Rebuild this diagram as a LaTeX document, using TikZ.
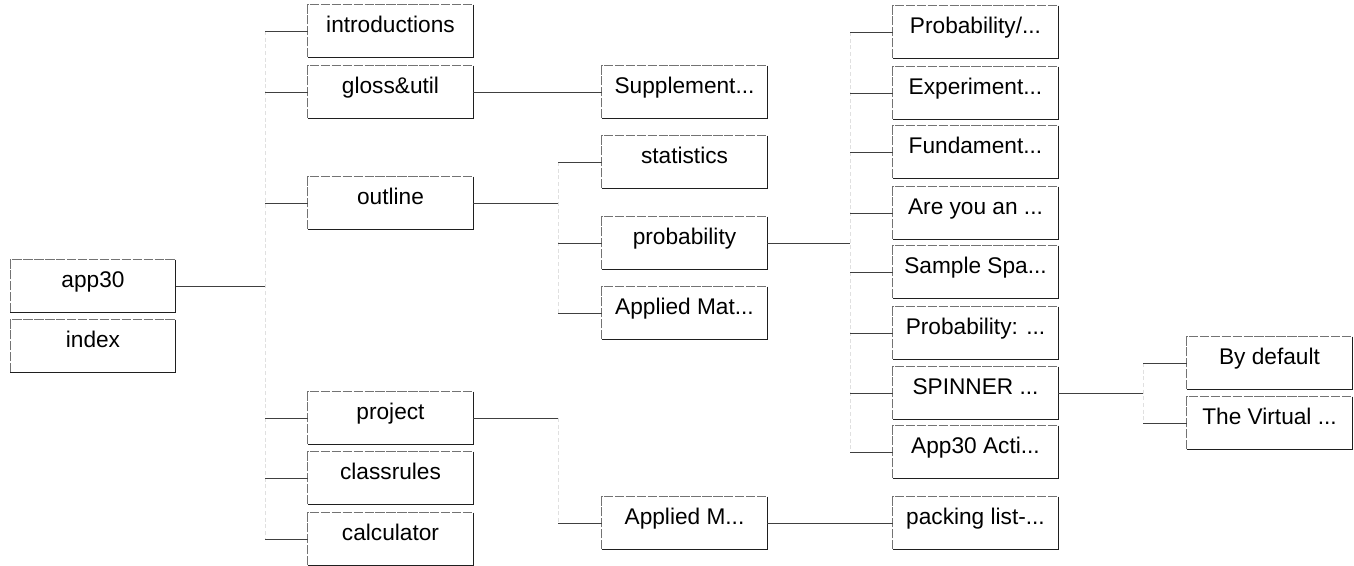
\documentclass[tikz,border=0pt]{standalone}
\usepackage{fontspec}
\setmainfont{Liberation Sans}
\tikzset{
  tbox/.style={minimum width=123.75pt, minimum height=39pt, inner sep=0pt,
    text height=5pt, text depth=2.5pt, font=\fontsize{17}{19}\selectfont},
  lightedge/.style={draw=black!55, line width=0.6pt, dash pattern=on 7pt off 1.2pt},
  darkedge/.style={draw=black!88, line width=0.9pt},
  conn/.style={draw=black!75, line width=0.65pt},
  trunk/.style={draw=black!12, line width=0.5pt, dash pattern=on 3pt off 2pt}
}
\newcommand\mybox[4]{%
  \node[tbox] (#1) at (#2,#3) {#4};
  \draw[lightedge] (#1.south west) -- (#1.north west) -- (#1.north east);
  \draw[darkedge] (#1.north east) -- (#1.south east) -- (#1.south west);
}
\begin{document}
\begin{tikzpicture}[x=0.75pt,y=-0.75pt]
\useasboundingbox (0,0) rectangle (1354,565);
% column 1
\mybox{app30}{93}{286}{app30}
\mybox{index}{93}{346}{index}
% column 2
\mybox{intro}{390.5}{31}{introductions}
\mybox{gloss}{390.5}{92}{gloss\&util}
\mybox{outline}{390.5}{203}{outline}
\mybox{project}{390.5}{418}{project}
\mybox{classrules}{390.5}{478}{classrules}
\mybox{calc}{390.5}{539}{calculator}
% column 3
\mybox{supp}{684.5}{92}{Supplement...}
\mybox{stats}{684.5}{162}{statistics}
\mybox{prob}{684.5}{243}{probability}
\mybox{appmat}{684.5}{313}{Applied Mat...}
\mybox{appm}{684.5}{523}{Applied M...}
% column 4
\mybox{probs}{975.5}{32}{Probability/...}
\mybox{exper}{975.5}{93}{Experiment...}
\mybox{fund}{975.5}{152}{Fundament...}
\mybox{areyou}{975.5}{213}{Are you an ...}
\mybox{sample}{975.5}{272}{Sample Spa...}
\mybox{probc}{975.5}{333}{Probability: ...}
\mybox{spinner}{975.5}{393}{SPINNER ...}
\mybox{acti}{975.5}{452}{App30 Acti...}
\mybox{packing}{975.5}{523}{packing list-...}
% column 5
\mybox{bydef}{1269.5}{363}{By default}
\mybox{virtual}{1269.5}{423}{The Virtual ...}
% trunk points
\coordinate (t1) at (265,286);
\coordinate (t2) at (558,203);
\coordinate (t3) at (558,418);
\coordinate (t4) at (850,243);
\coordinate (t5) at (1143,393);
% faint trunks
\draw[trunk] (t1 |- intro.west) -- (t1 |- calc.west);
\draw[trunk] (t2 |- stats.west) -- (t2 |- appmat.west);
\draw[trunk] (t3) -- (t3 |- appm.west);
\draw[trunk] (t4 |- probs.west) -- (t4 |- acti.west);
\draw[trunk] (t5 |- bydef.west) -- (t5 |- virtual.west);
% connectors
\draw[conn] (app30.east) -- (t1);
\foreach \c in {intro,gloss,outline,project,classrules,calc}
  \draw[conn] (t1 |- \c.west) -- (\c.west);
\draw[conn] (gloss.east) -- (supp.west);
\draw[conn] (outline.east) -- (t2);
\foreach \c in {stats,prob,appmat}
  \draw[conn] (t2 |- \c.west) -- (\c.west);
\draw[conn] (project.east) -- (t3);
\draw[conn] (t3 |- appm.west) -- (appm.west);
\draw[conn] (prob.east) -- (t4);
\foreach \c in {probs,exper,fund,areyou,sample,probc,spinner,acti}
  \draw[conn] (t4 |- \c.west) -- (\c.west);
\draw[conn] (appm.east) -- (packing.west);
\draw[conn] (spinner.east) -- (t5);
\foreach \c in {bydef,virtual}
  \draw[conn] (t5 |- \c.west) -- (\c.west);
\end{tikzpicture}
\end{document}
